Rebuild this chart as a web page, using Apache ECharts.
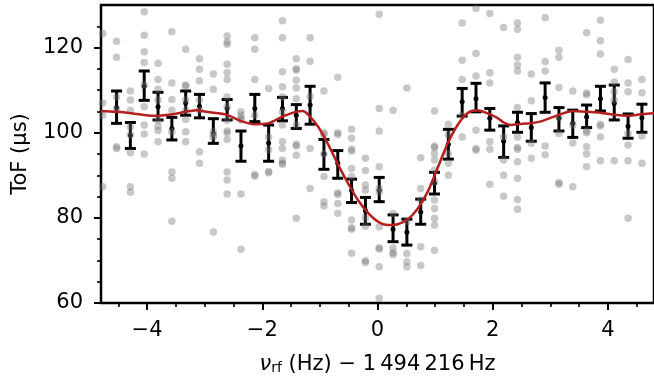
<!DOCTYPE html>
<html>
<head>
<meta charset="utf-8">
<script src="https://cdn.jsdelivr.net/npm/echarts@6/dist/echarts.min.js"></script>
<style>
  html, body { margin: 0; padding: 0; background: #fff; }
  #main { width: 654px; height: 381px; }
</style>
</head>
<body>
<div id="main"></div>
<script>
// scan columns (Hz offset), one per frequency step
var colX = [-4.77, -4.53, -4.29, -4.05, -3.81, -3.57, -3.33, -3.09, -2.85, -2.61,
            -2.37, -2.13, -1.89, -1.65, -1.41, -1.17, -0.93, -0.69, -0.45, -0.21,
             0.03,  0.27,  0.51,  0.75,  0.99,  1.23,  1.47,  1.71,  1.95,  2.19,
             2.43,  2.67,  2.91,  3.15,  3.39,  3.63,  3.87,  4.11,  4.35,  4.59]

// single-shot ToF values per column (us)
var shots = [
  [123.3, 107.0, 104.1, 87.3],
  [121.5, 117.7, 108.4, 105.5, 96.7, 96.3],
  [109.8, 107.7, 105.3, 101.4, 99.5, 95.3, 87.3, 86.0],
  [128.4, 122.9, 119.0, 116.5, 111.2, 106.1, 101.8, 99.7, 95.0],
  [116.3, 112.5, 110.2, 107.7, 102.9, 101.5, 100.5, 97.9],
  [123.7, 111.7, 107.8, 105.3, 100.2, 90.8, 89.3, 79.2],
  [119.6, 111.2, 110.9, 107.7, 105.3, 103.1, 100.2, 97.9],
  [117.4, 114.9, 112.2, 107.7, 105.3, 95.5, 92.8],
  [113.8, 110.2, 100.2, 99.4, 99.0, 76.7],
  [122.7, 121.3, 120.8, 116.1, 114.1, 112.5, 108.4, 106.1, 102.9, 100.4, 100.0, 98.4, 90.8, 88.9, 85.6],
  [104.9, 104.1, 103.3, 103.0, 85.6, 72.6],
  [122.3, 119.6, 112.5, 104.1, 90.2, 89.8],
  [110.4, 99.0, 96.0, 90.9, 90.6],
  [126.3, 122.3, 114.3, 110.8, 108.4, 104.9, 101.8, 97.9, 96.3, 93.6, 92.9, 92.6],
  [117.4, 115.1, 114.7, 112.3, 110.5, 108.0, 101.8, 97.3, 96.9, 94.7, 79.9],
  [122.3, 116.8, 108.5, 96.3, 86.9],
  [109.8, 100.0, 99.6, 95.0, 89.7, 83.8, 82.8],
  [113.0, 100.0, 99.6, 85.9, 85.5, 83.4, 81.1],
  [100.8, 98.7, 96.1, 95.7, 91.6, 89.7, 79.5, 77.7, 77.3, 71.7],
  [94.0, 91.1, 87.7, 86.5, 80.0, 78.0, 69.9, 69.5],
  [127.8, 105.7, 100.4, 92.0, 86.9, 86.1, 77.9, 73.0, 72.6, 68.5, 61.1],
  [105.3, 81.0, 72.9, 71.8, 71.4],
  [110.5, 79.1, 71.6, 69.7, 68.5],
  [94.1, 86.9, 84.2, 73.2, 68.8],
  [105.1, 96.9, 96.5, 95.1, 93.6, 91.2, 88.5, 84.2, 82.2, 79.9, 78.3, 72.4],
  [102.0, 99.5, 95.1, 92.8, 90.0],
  [125.8, 117.0, 112.5, 104.1, 99.0],
  [129.2, 118.6, 113.3, 100.6, 96.3, 95.9],
  [128.0, 114.1, 111.7, 97.9, 96.1, 87.9],
  [124.7, 99.0, 93.6, 90.0, 85.1],
  [125.8, 124.3, 117.7, 115.9, 114.5, 105.9, 99.0, 96.5, 96.1, 93.2, 89.3, 84.3, 82.0],
  [113.8, 107.5, 97.5, 94.0],
  [127.0, 116.7, 114.5, 96.9, 94.8],
  [119.4, 117.7, 110.6, 103.7, 99.8, 88.3, 87.9],
  [109.8, 101.8, 97.6, 87.3],
  [123.5, 109.3, 108.9, 100.4, 100.0, 96.7, 95.0, 92.0],
  [126.4, 121.6, 118.5, 102.0, 101.6, 99.0, 93.4],
  [114.9, 111.9, 109.6, 107.7, 93.4],
  [117.2, 111.7, 109.6, 99.8, 97.1, 93.4, 79.9],
  [112.5, 109.4, 99.2, 92.8]
]

// binned means with error bars
var binX = [-4.53, -4.29, -4.05, -3.81, -3.57, -3.33, -3.09, -2.85, -2.61, -2.37,
            -2.13, -1.89, -1.65, -1.41, -1.17, -0.93, -0.69, -0.45, -0.21,  0.03,
             0.27,  0.51,  0.75,  0.99,  1.23,  1.47,  1.71,  1.95,  2.19,  2.43,
             2.67,  2.91,  3.15,  3.39,  3.63,  3.87,  4.11,  4.35,  4.59]
var binMean = [105.9, 99.4, 110.9, 106.1, 101.0, 107.0, 106.2, 99.8, 105.7, 96.9,
               105.7, 97.6, 105.7, 104.1, 106.5, 95.0, 92.8, 86.4, 81.7, 86.5,
               77.3, 76.6, 81.4, 88.1, 97.3, 107.3, 108.0, 103.4, 98.0, 102.4,
               101.2, 108.3, 103.4, 102.2, 103.7, 108.0, 106.9, 101.5, 103.5]
var binLow = [102.2, 96.3, 107.6, 103.0, 98.3, 104.1, 103.5, 97.5, 103.0, 93.3,
              102.6, 93.3, 102.8, 101.0, 102.0, 91.4, 89.3, 83.6, 78.5, 83.8,
              74.4, 73.6, 78.5, 85.6, 93.8, 103.9, 104.9, 100.6, 94.2, 100.1,
              98.0, 104.8, 100.4, 98.9, 101.2, 105.1, 103.0, 98.7, 100.1]
var binHigh = [109.8, 102.4, 114.5, 109.5, 103.6, 109.8, 109.0, 103.3, 107.8, 100.4,
               109.0, 101.8, 108.3, 106.6, 110.9, 98.4, 95.8, 89.1, 84.8, 89.5,
               80.7, 79.7, 84.4, 90.7, 100.8, 110.4, 111.6, 105.7, 101.6, 104.8,
               104.5, 111.7, 105.9, 105.3, 106.5, 110.9, 111.2, 104.4, 106.7]

// fitted line shape
var fitX = [-4.80, -4.54, -4.28, -3.87, -3.58, -3.34, -3.13, -2.96, -2.61, -2.38,
            -2.13, -1.90, -1.65, -1.42, -1.30, -1.20, -1.03, -0.85, -0.68, -0.51,
            -0.34, -0.16, 0.01, 0.18, 0.35, 0.53, 0.70, 0.87, 1.04, 1.22,
             1.39, 1.56, 1.73, 1.90, 2.08, 2.19, 2.33, 2.43, 2.67, 2.82,
             2.91, 3.15, 3.39, 3.63, 3.87, 4.12, 4.36, 4.60, 4.80]
var fitY = [105.1, 104.9, 104.6, 104.0, 104.3, 104.9, 105.3, 104.9, 104.2, 102.8,
            102.0, 102.2, 103.8, 104.9, 105.1, 104.2, 101.4, 97.1, 92.4, 88.1,
            84.2, 81.1, 79.1, 78.3, 78.5, 79.7, 82.2, 86.1, 91.6, 97.5,
            101.8, 104.6, 105.3, 104.6, 103.5, 102.4, 101.8, 102.0, 102.2, 102.6,
            103.0, 104.2, 105.1, 104.9, 104.7, 104.2, 104.0, 104.4, 104.6]

// tick labels
var xMajor = [-4, -2, 0, 2, 4]
var xMinor = [-4.5, -3.5, -3, -2.5, -1.5, -1, -0.5, 0.5, 1, 1.5, 2.5, 3, 3.5, 4.5]
var yMajor = [60, 80, 100, 120]
var yMinor = [65, 70, 75, 85, 90, 95, 105, 110, 115, 125]

var FONT = 'DejaVu Sans'

var shotPts = []
colX.forEach(function (x, i) {
  shots[i].forEach(function (y) { shotPts.push([x, y]) })
})
var barPts = binX.map(function (x, i) { return [x, binLow[i], binHigh[i], binMean[i]] })
var fitPts = fitX.map(function (x, i) { return [x, fitY[i]] })

var chart = echarts.init(document.getElementById('main'))

function xAxisBase(extra) {
  return Object.assign({
    type: 'value', min: -4.8, max: 4.8, position: 'bottom',
    splitLine: { show: false }, axisLine: { show: false, onZero: false }
  }, extra)
}
function yAxisBase(extra) {
  return Object.assign({
    type: 'value', min: 60, max: 130, position: 'left',
    splitLine: { show: false }, axisLine: { show: false, onZero: false }
  }, extra)
}

chart.setOption({
  animation: false,
  grid: {
    left: 101, right: -4, top: 5, bottom: 78,
    show: true, borderColor: '#000', borderWidth: 2.5, backgroundColor: 'transparent'
  },
  xAxis: [
    xAxisBase({
      name: '{i|ν}{s|rf} (Hz) − 1\u2009494\u2009216\u2009Hz',
      nameLocation: 'middle', nameGap: 51,
      nameTextStyle: {
        fontSize: 21, color: '#000', fontFamily: FONT,
        rich: {
          i: { fontSize: 21, fontStyle: 'italic', fontFamily: FONT, color: '#000' },
          s: { fontSize: 14, fontFamily: FONT, color: '#000', verticalAlign: 'bottom' }
        }
      },
      axisTick: { customValues: xMajor, length: 7, lineStyle: { color: '#000', width: 2 } },
      axisLabel: {
        customValues: xMajor, fontSize: 21, color: '#000', fontFamily: FONT, margin: 17,
        formatter: function (v) { return String(v).replace('-', '\u2212') }
      }
    }),
    xAxisBase({
      axisTick: { customValues: xMinor, length: 4, lineStyle: { color: '#000', width: 1.6 } },
      axisLabel: { show: false }
    })
  ],
  yAxis: [
    yAxisBase({
      name: 'ToF (µs)', nameLocation: 'middle', nameGap: 70,
      nameTextStyle: { fontSize: 21, color: '#000', fontFamily: FONT },
      axisTick: { customValues: yMajor, length: 7, lineStyle: { color: '#000', width: 2 } },
      axisLabel: { customValues: yMajor, fontSize: 21, color: '#000', fontFamily: FONT, margin: 18 }
    }),
    yAxisBase({
      axisTick: { customValues: yMinor, length: 4, lineStyle: { color: '#000', width: 1.6 } },
      axisLabel: { show: false }
    })
  ],
  series: [
    {
      type: 'scatter', data: shotPts, symbolSize: 7.5, silent: true,
      itemStyle: { color: 'rgba(118,118,118,0.5)' }
    },
    {
      type: 'custom', data: barPts, silent: true,
      renderItem: function (params, api) {
        var lo = api.coord([api.value(0), api.value(1)])
        var hi = api.coord([api.value(0), api.value(2)])
        var mid = api.coord([api.value(0), api.value(3)])
        var st = { stroke: '#000', lineWidth: 3 }
        return {
          type: 'group',
          children: [
            { type: 'line', shape: { x1: lo[0], y1: lo[1], x2: hi[0], y2: hi[1] }, style: st },
            { type: 'line', shape: { x1: lo[0] - 5.5, y1: lo[1], x2: lo[0] + 5.5, y2: lo[1] }, style: st },
            { type: 'line', shape: { x1: hi[0] - 5.5, y1: hi[1], x2: hi[0] + 5.5, y2: hi[1] }, style: st },
            { type: 'circle', shape: { cx: mid[0], cy: mid[1], r: 2.5 }, style: { fill: '#000' } }
          ]
        }
      }
    },
    {
      type: 'line', data: fitPts, smooth: 0.3, symbol: 'none', silent: true,
      lineStyle: { color: '#b5201f', width: 2.5 }, z: 3
    }
  ]
})
</script>
</body>
</html>
